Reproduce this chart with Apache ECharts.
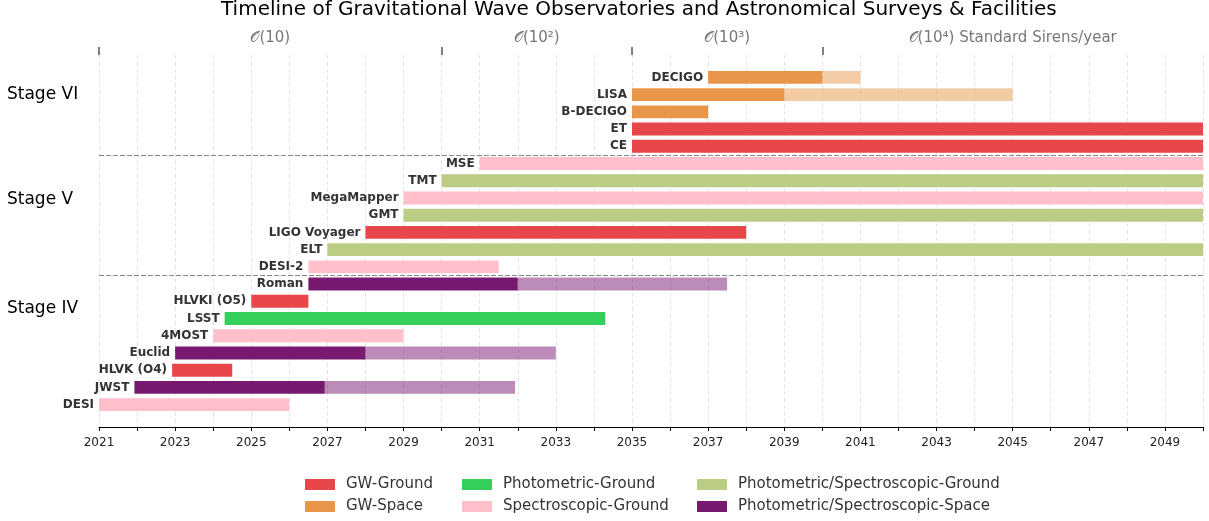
<!DOCTYPE html>
<html>
<head>
<meta charset="utf-8">
<script src="https://cdn.jsdelivr.net/npm/echarts@6/dist/echarts.min.js"></script>
<style>
  html, body { margin: 0; padding: 0; background: #fff; }
  #chart { width: 1209px; height: 521px; }
</style>
</head>
<body>
<div id="chart"></div>
<script>
// facilities from bottom row to top row
const names = ['DESI', 'JWST', 'HLVK (O4)', 'Euclid', '4MOST', 'LSST', 'HLVKI (O5)', 'Roman', 'DESI-2', 'ELT',
  'LIGO Voyager', 'GMT', 'MegaMapper', 'TMT', 'MSE', 'CE', 'ET', 'B-DECIGO', 'LISA', 'DECIGO'];
const kinds = ['Spectroscopic-Ground', 'Photometric/Spectroscopic-Space', 'GW-Ground', 'Photometric/Spectroscopic-Space',
  'Spectroscopic-Ground', 'Photometric-Ground', 'GW-Ground', 'Photometric/Spectroscopic-Space', 'Spectroscopic-Ground',
  'Photometric/Spectroscopic-Ground', 'GW-Ground', 'Photometric/Spectroscopic-Ground', 'Spectroscopic-Ground',
  'Photometric/Spectroscopic-Ground', 'Spectroscopic-Ground', 'GW-Ground', 'GW-Ground', 'GW-Space', 'GW-Space', 'GW-Space'];
const starts = [2021, 2021.93, 2022.92, 2023, 2024, 2024.3, 2025, 2026.5, 2026.5, 2027,
  2028, 2029, 2029, 2030, 2031, 2035, 2035, 2035, 2035, 2037];
const ends = [2026, 2026.93, 2024.5, 2028, 2029, 2034.3, 2026.5, 2032, 2031.5, 2050,
  2038, 2050, 2050, 2050, 2050, 2050, 2050, 2037, 2039, 2040];
// extended (faded) mission end, null where none
const extEnds = [null, 2031.93, null, 2033, null, null, null, 2037.5, null, null,
  null, null, null, null, null, null, null, null, 2045, 2041];

const kindNames = ['GW-Ground', 'GW-Space', 'Photometric-Ground', 'Spectroscopic-Ground',
  'Photometric/Spectroscopic-Ground', 'Photometric/Spectroscopic-Space'];
const kindColors = ['#E8474A', '#E8974A', '#33CF5A', '#FFC0CB', '#BBCD85', '#771A6F'];

const stageNames = ['Stage IV', 'Stage V', 'Stage VI'];
const stageRows = [5.6, 11.9, 18];
const stageBreaks = [7.5, 14.5];

const eraTicks = [2021, 2030, 2035, 2040];
const eraLabelYears = [2025.5, 2032.5, 2037.5, 2045];
const eraLabels = ['𝒪(10)', '𝒪(10²)', '𝒪(10³)', '𝒪(10⁴) Standard Sirens/year'];

const chart = echarts.init(document.getElementById('chart'));

function renderBar(params, api) {
  const row = api.value(0);
  const s = api.value(1), e = api.value(2), x = api.value(3);
  const p0 = api.coord([s, row]);
  const p1 = api.coord([e, row]);
  const h = api.size([0, 0.75])[1];
  const color = api.visual('color');
  const kids = [{
    type: 'rect',
    shape: { x: p0[0], y: p0[1] - h / 2, width: p1[0] - p0[0], height: h },
    style: { fill: color }
  }];
  if (x > e) {
    const p2 = api.coord([x, row]);
    kids.push({
      type: 'rect',
      shape: { x: p1[0], y: p1[1] - h / 2, width: p2[0] - p1[0], height: h },
      style: { fill: color, opacity: 0.5 }
    });
  }
  kids.push({
    type: 'text',
    x: p0[0] - 5, y: p0[1],
    style: {
      text: names[row], align: 'right', verticalAlign: 'middle',
      fill: '#333', font: 'bold 12px "DejaVu Sans"'
    }
  });
  return { type: 'group', children: kids };
}

const series = kindNames.map((k, ki) => {
  const data = [];
  names.forEach((n, i) => {
    if (kinds[i] === k) data.push([i, starts[i], ends[i], extEnds[i] == null ? ends[i] : extEnds[i]]);
  });
  const s = {
    name: k,
    type: 'custom',
    renderItem: renderBar,
    itemStyle: { color: kindColors[ki] },
    encode: { x: [1, 2, 3], y: 0 },
    data: data,
    silent: true
  };
  if (ki === 0) {
    s.markLine = {
      silent: true, symbol: 'none',
      label: { show: false },
      lineStyle: { color: '#888', type: [5, 2], width: 1 },
      data: stageBreaks.map(v => ({ yAxis: v }))
    };
  }
  return s;
});

const legendCol = (items, left) => ({
  data: items, orient: 'vertical', left: left, top: 477, height: 44, padding: 0,
  icon: 'rect', itemWidth: 30, itemHeight: 11, itemGap: 7,
  textStyle: { fontSize: 15, color: '#333', fontFamily: 'DejaVu Sans', padding: [0, 0, 0, 6] }
});

chart.setOption({
  animation: false,
  textStyle: { fontFamily: 'DejaVu Sans' },
  title: {
    text: 'Timeline of Gravitational Wave Observatories and Astronomical Surveys & Facilities',
    left: 221, top: 0, padding: 0,
    textStyle: { fontSize: 20, fontWeight: 'normal', color: '#000' }
  },
  legend: [
    legendCol(['GW-Ground', 'GW-Space'], 305),
    legendCol(['Photometric-Ground', 'Spectroscopic-Ground'], 462),
    legendCol(['Photometric/Spectroscopic-Ground', 'Photometric/Spectroscopic-Space'], 697)
  ],
  grid: { left: 99, right: 6, top: 55, bottom: 94 },
  xAxis: [{
    type: 'value', min: 2021, max: 2050, interval: 1,
    axisLine: { show: true, onZero: false, lineStyle: { color: '#000', width: 1.2 } },
    axisTick: { show: true, length: 4, lineStyle: { color: '#000' } },
    axisLabel: {
      fontSize: 12, color: '#222', margin: 10,
      formatter: v => ((v - 2021) % 2 === 0 ? String(v) : '')
    },
    splitLine: { show: true, lineStyle: { color: '#e3e3e3', type: [4, 3], width: 1 } }
  }, {
    type: 'value', position: 'top', min: 2021, max: 2050,
    axisLine: { show: false, onZero: false },
    axisTick: { show: true, length: 8, customValues: eraTicks, lineStyle: { color: '#555', width: 1.5 } },
    axisLabel: {
      fontSize: 15, color: '#777', margin: 9, customValues: eraLabelYears,
      formatter: v => eraLabels[eraLabelYears.indexOf(v)] || ''
    },
    splitLine: { show: false }
  }],
  yAxis: {
    type: 'value', min: -1.3, max: 20.3,
    axisLine: { show: false }, axisTick: { show: false }, splitLine: { show: false },
    axisLabel: {
      customValues: stageRows, align: 'left', margin: 92, fontSize: 17, color: '#000',
      formatter: v => stageNames[stageRows.indexOf(v)] || ''
    }
  },
  series: series
});
</script>
</body>
</html>
